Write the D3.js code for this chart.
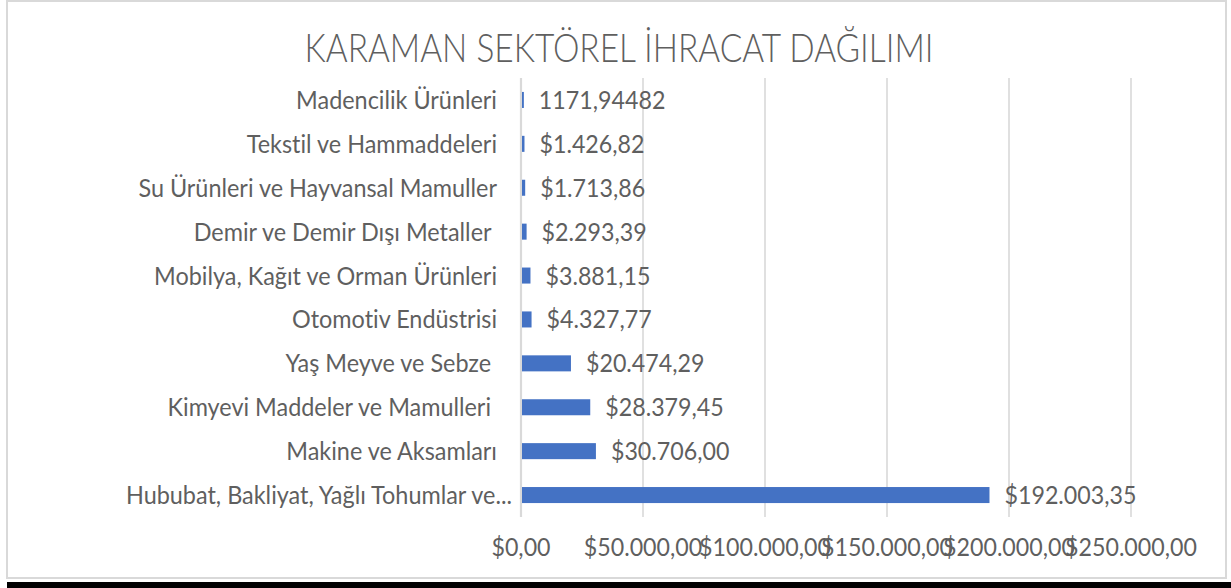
<!DOCTYPE html>
<html>
<head>
<meta charset="utf-8">
<script src="https://cdn.jsdelivr.net/npm/d3@7"></script>
<style>
  body { margin: 0; background: #fff; }
  text { white-space: pre; font-variant-ligatures: none; }
</style>
</head>
<body>
<svg id="chart" width="1231" height="588"></svg>
<script>
// data
const title = "KARAMAN SEKTÖREL İHRACAT DAĞILIMI";
const categories = [
    "Madencilik Ürünleri",
    "Tekstil ve Hammaddeleri",
    "Su Ürünleri ve Hayvansal Mamuller",
    "Demir ve Demir Dışı Metaller ",
    "Mobilya, Kağıt ve Orman Ürünleri",
    "Otomotiv Endüstrisi",
    "Yaş Meyve ve Sebze ",
    "Kimyevi Maddeler ve Mamulleri ",
    "Makine ve Aksamları",
    "Hububat, Bakliyat, Yağlı Tohumlar ve..."
];
const values = [1171.94482, 1426.82, 1713.86, 2293.39, 3881.15, 4327.77, 20474.29, 28379.45, 30706.00, 192003.35];
const valueLabels = ["1171,94482", "$1.426,82", "$1.713,86", "$2.293,39", "$3.881,15",
                     "$4.327,77", "$20.474,29", "$28.379,45", "$30.706,00", "$192.003,35"];
const xTicks = [0, 50000, 100000, 150000, 200000, 250000];

const FONT = "Lato, 'Open Sans', sans-serif";
const TEXT_COLOR = "#5f5f5f";
const GRID_COLOR = "#d9d9d9";
const BAR_COLOR = "#4472c4";

const trLocale = d3.formatLocale({decimal: ",", thousands: ".", grouping: [3], currency: ["$", ""]});
const money = trLocale.format("$,.2f");

const svg = d3.select("#chart");

const margin = {top: 78, right: 100, bottom: 70, left: 521};
const plotW = 1131 - margin.left;
const plotH = 517 - margin.top;

// emulate a narrow (Calibri-like) face: squeeze text horizontally
function factorFor(sample, size, weight, target) {
    var t = svg.append("text").attr("font-family", FONT).attr("font-size", size)
        .attr("font-weight", weight).text(sample);
    var w = t.node().getComputedTextLength();
    t.remove();
    return target / w;
}
function squeeze(sel, f) {
    sel.each(function () {
        var w = this.getComputedTextLength();
        d3.select(this).attr("textLength", w * f).attr("lengthAdjust", "spacingAndGlyphs");
    });
}

// background + frame
svg.append("rect").attr("width", 1231).attr("height", 588).attr("fill", "#fff");
svg.append("rect")
    .attr("x", 7).attr("y", 1).attr("width", 1219).attr("height", 577)
    .attr("fill", "#fff").attr("stroke", GRID_COLOR).attr("stroke-width", 2);
svg.append("rect").attr("x", 7).attr("y", 582).attr("width", 1224).attr("height", 6).attr("fill", "#000");

var x = d3.scaleLinear().domain([0, 250000]).range([0, plotW]);
var y = d3.scaleBand().domain(categories).range([0, plotH]).paddingInner(0.635).paddingOuter(0.3175);

var g = svg.append("g").attr("transform", "translate(" + margin.left + "," + margin.top + ")");

// gridlines
g.append("g").selectAll("line")
    .data(xTicks)
    .enter().append("line")
    .attr("x1", d => x(d)).attr("x2", d => x(d))
    .attr("y1", 0).attr("y2", plotH)
    .attr("stroke", GRID_COLOR)
    .attr("stroke-width", d => d === 0 ? 2.2 : 1.6);

// bars
g.append("g").selectAll("rect")
    .data(values)
    .enter().append("rect")
    .attr("x", x(0) + 1)
    .attr("y", (d, i) => y(categories[i]))
    .attr("width", d => Math.max(1.5, x(d) - x(0) - 1))
    .attr("height", y.bandwidth())
    .attr("fill", BAR_COLOR);

var labelSize = 25;
var fLabel = factorFor("Hububat, Bakliyat, Yağlı Tohumlar ve...", labelSize, 400, 386);
var fValue = factorFor("$192.003,35", labelSize, 400, 132);

// value labels
var vals = g.append("g").selectAll("text")
    .data(values)
    .enter().append("text")
    .attr("x", d => x(d) + 15)
    .attr("y", (d, i) => y(categories[i]) + y.bandwidth() / 2)
    .attr("dy", "0.36em")
    .attr("font-family", FONT).attr("font-size", labelSize)
    .attr("fill", TEXT_COLOR)
    .text((d, i) => valueLabels[i]);
squeeze(vals, fValue);

// category labels
var cats = g.append("g").selectAll("text")
    .data(categories)
    .enter().append("text")
    .attr("x", d => d.endsWith("...") ? -9 : -24)
    .attr("y", d => y(d) + y.bandwidth() / 2)
    .attr("dy", "0.36em")
    .attr("text-anchor", "end")
    .attr("font-family", FONT).attr("font-size", labelSize)
    .attr("fill", TEXT_COLOR)
    .text(d => d);
squeeze(cats, fLabel);

// x tick labels (they touch each other in the original, too)
var ticks = g.append("g").selectAll("text")
    .data(xTicks)
    .enter().append("text")
    .attr("x", d => x(d))
    .attr("y", plotH + 39)
    .attr("text-anchor", "middle")
    .attr("font-family", FONT).attr("font-size", labelSize)
    .attr("fill", TEXT_COLOR)
    .text(d => money(d));
squeeze(ticks, fValue);

// title
var titleSize = 39;
var t = svg.append("text")
    .attr("x", 619).attr("y", 62)
    .attr("text-anchor", "middle")
    .attr("font-family", FONT).attr("font-size", titleSize).attr("font-weight", 300)
    .attr("fill", TEXT_COLOR)
    .text(title);
squeeze(t, factorFor(title, titleSize, 300, 629));
</script>
</body>
</html>
